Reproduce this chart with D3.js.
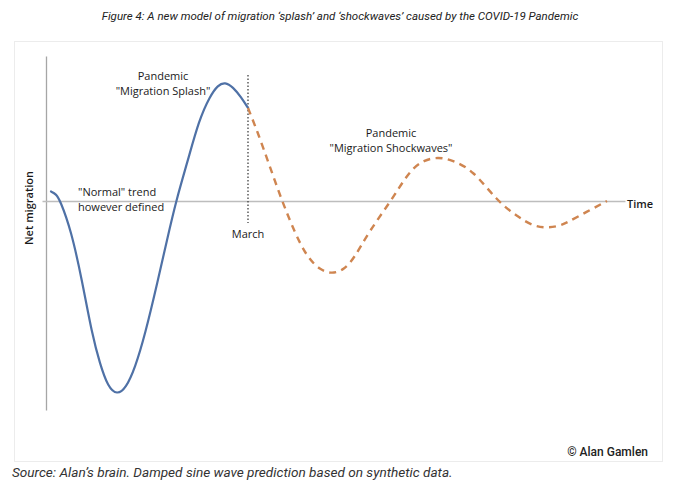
<!DOCTYPE html>
<html><head><meta charset="utf-8">
<script src="https://cdn.jsdelivr.net/npm/d3@7"></script>
<style>
body{margin:0;background:#fff;}
svg{display:block;}
</style></head>
<body>
<svg id="c" width="680" height="497"></svg>
<script>
// Splash (solid) part: time units and net migration values (arbitrary units)
const splashTime  = [0.9, 1.4, 1.8, 2.9, 4.0, 5.0, 5.8, 6.6, 7.5, 8.4, 9.3, 10.3, 11.6, 12.5, 13.4, 14.6, 15.7, 16.8, 17.6, 18.3, 19.1, 19.9, 20.6];
const splashValue = [0.95, 0.7, 0.1, -2.9, -7.9, -13.3, -16.3, -18.6, -19.4, -18.7, -16.7, -13.4, -7.9, -3.9, 0.0, 4.1, 8.1, 10.5, 11.6, 11.9, 11.4, 10.4, 9.3];
// Shockwaves (dashed) part
const shockTime  = [20.6, 21.6, 22.8, 24.0, 25.3, 26.5, 27.8, 29.0, 30.2, 31.3, 32.6, 34.9, 36.8, 38.2, 39.6, 41.0, 43.1, 45.5, 47.6, 49.1, 50.5, 51.9, 53.5, 56.5];
const shockValue = [9.3, 6.8, 3.4, 0.0, -3.2, -5.6, -6.9, -7.3, -6.9, -5.6, -3.2, 0.0, 3.1, 4.1, 4.4, 4.1, 3.1, 0.0, -1.6, -2.5, -2.7, -2.5, -1.6, 0.0];
const marchTime = 20.6;
const timeDomain = [0, 58.3];
const valueDomain = [-20.9, 14.5];

const svg = d3.select("#c");
const fontChart = "'Open Sans', 'Noto Sans', sans-serif";

// title
svg.append("text").attr("x", 340).attr("y", 20).attr("text-anchor", "middle")
  .attr("font-family", "Roboto, sans-serif").attr("font-style", "italic")
  .attr("font-size", 11.5).attr("fill", "#222")
  .text("Figure 4: A new model of migration \u2018splash\u2019 and \u2018shockwaves\u2019 caused by the COVID-19 Pandemic");

// frame
svg.append("rect").attr("x", 14.5).attr("y", 41.5).attr("width", 648).attr("height", 420)
  .attr("fill", "#fff").attr("stroke", "#ececec").attr("stroke-width", 1);

const x = d3.scaleLinear().domain(timeDomain).range([42, 625]);
const y = d3.scaleLinear().domain(valueDomain).range([410, 56]);

// y axis
const ya = svg.append("g").attr("transform", `translate(${x(0.4)},0)`)
  .call(d3.axisLeft(y).tickValues([]).tickSizeOuter(0));
ya.select(".domain").attr("stroke", "#a6a6a6").attr("stroke-width", 1.3);

// zero (time) axis
const xa = svg.append("g").attr("transform", `translate(0,${y(0)})`)
  .call(d3.axisBottom(x).tickValues([]).tickSizeOuter(0));
xa.select(".domain").attr("stroke", "#bdbdbd").attr("stroke-width", 1.3);

// March line
svg.append("line").attr("x1", x(marchTime)).attr("x2", x(marchTime))
  .attr("y1", 75).attr("y2", 223)
  .attr("stroke", "#333").attr("stroke-width", 1.2).attr("stroke-dasharray", "1.5,2");

const line = d3.line().x(d => x(d[0])).y(d => y(d[1])).curve(d3.curveBasis);

svg.append("path").datum(splashTime.map((t, i) => [t, splashValue[i]]))
  .attr("d", line).attr("fill", "none").attr("stroke", "#4f71a6").attr("stroke-width", 2.2)
  .attr("stroke-linecap", "round");

svg.append("path").datum(shockTime.map((t, i) => [t, shockValue[i]]))
  .attr("d", line).attr("fill", "none").attr("stroke", "#cf8550").attr("stroke-width", 2.4)
  .attr("stroke-dasharray", "7,5.5");

function label(xp, yp, txt, anchor, opts = {}) {
  return svg.append("text").attr("x", xp).attr("y", yp).attr("text-anchor", anchor || "start")
    .attr("font-family", fontChart).attr("font-size", opts.size || 11).attr("fill", "#1a1a1a")
    .attr("font-weight", opts.weight || 400).text(txt);
}
label(163, 80, "Pandemic", "middle");
label(163, 95, "\"Migration Splash\"", "middle");
label(78, 196, "\"Normal\" trend", "start");
label(78, 211, "however defined", "start");
label(248, 238, "March", "middle");
label(391, 137, "Pandemic", "middle");
label(391, 152, "\"Migration Shockwaves\"", "middle");
label(627, 208, "Time", "start", {weight: 600});

svg.append("text").attr("transform", `translate(33,208) rotate(-90)`)
  .attr("text-anchor", "middle").attr("font-family", fontChart).attr("font-size", 11)
  .attr("font-weight", 600).attr("fill", "#1a1a1a").text("Net migration");

svg.append("text").attr("x", 648).attr("y", 456).attr("text-anchor", "end")
  .attr("font-family", "Roboto, sans-serif").attr("font-size", 12).attr("font-weight", 500)
  .attr("fill", "#222").text("\u00a9 Alan Gamlen");

svg.append("text").attr("x", 12).attr("y", 477)
  .attr("font-family", "Roboto, sans-serif").attr("font-style", "italic").attr("font-size", 13.6)
  .attr("fill", "#333").text("Source: Alan\u2019s brain. Damped sine wave prediction based on synthetic data.");
</script>
</body></html>
